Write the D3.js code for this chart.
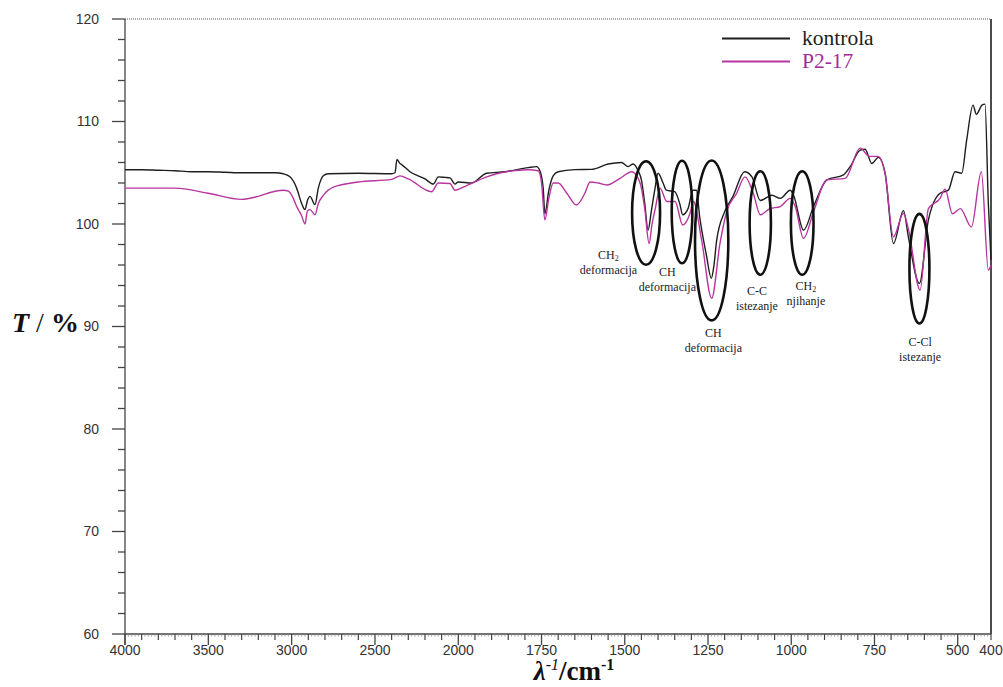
<!DOCTYPE html>
<html>
<head>
<meta charset="utf-8">
<script src="https://cdn.jsdelivr.net/npm/d3@7"></script>
<style>
  html, body { margin: 0; padding: 0; background: #fff; }
  svg { display: block; }
</style>
</head>
<body>
<svg id="chart" width="1003" height="687"></svg>
<script>
// ---- DATA ----
const seriesNames = ["kontrola", "P2-17"];

const kontrolaWn = [4000,3900,3800,3700,3600,3500,3400,3300,3200,3100,3050,3010,2970,2940,2920,2905,2890,2860,2840,2810,2780,2600,2400,2380,2368,2350,2340,2290,2200,2150,2120,2080,2050,2020,2000,1960,1915,1860,1790,1765,1755,1745,1740,1728,1715,1700,1650,1600,1550,1510,1490,1475,1460,1450,1440,1430,1420,1410,1400,1385,1375,1350,1335,1326,1310,1295,1285,1275,1255,1240,1232,1224,1200,1175,1140,1118,1093,1058,1033,1003,993,963,933,893,843,823,793,778,758,738,718,693,663,648,615,588,553,528,508,488,473,454,444,427,418,408,400];
const kontrolaT  = [105.3,105.3,105.25,105.2,105.1,105.1,105.05,105.0,105.0,105.0,104.9,104.6,103.5,102.0,101.4,102.3,102.7,101.9,103.5,104.7,104.9,104.95,104.9,105.0,106.3,105.9,105.8,105.1,104.4,103.9,104.6,104.55,104.5,103.9,104.1,104.0,104.95,105.1,105.5,105.6,105.2,103.5,101.0,103.3,104.7,105.1,105.3,105.33,105.85,106.0,105.6,105.85,105.2,104.3,102.0,99.4,101.3,103.3,104.95,104.0,103.3,103.15,102.0,100.9,101.5,103.3,103.3,100.7,97.0,94.7,96.0,98.4,101.2,102.7,105.1,104.6,102.3,102.8,102.5,103.3,102.8,99.4,101.7,104.3,104.8,105.6,107.2,107.3,105.9,106.5,104.95,98.1,101.3,98.7,94.2,100.4,103.0,103.3,105.1,104.95,108.2,111.6,110.7,111.6,111.7,102.0,96.5];

const p217Wn = [4000,3800,3700,3500,3300,3200,3100,3050,3020,2990,2970,2940,2920,2905,2890,2860,2840,2810,2750,2600,2400,2350,2300,2160,2120,2050,2020,1985,1915,1790,1760,1750,1740,1728,1715,1700,1674,1645,1620,1604,1580,1554,1514,1479,1454,1440,1427,1418,1409,1394,1374,1349,1326,1304,1294,1269,1239,1214,1194,1164,1139,1114,1093,1064,1033,1003,988,963,933,893,838,793,765,740,718,693,663,648,613,588,553,538,516,492,459,429,408,400];
const p217T  = [103.5,103.5,103.5,103.0,102.4,102.7,103.2,103.3,103.2,102.5,101.7,100.8,100.0,101.3,101.4,100.9,102.0,102.8,103.6,104.1,104.35,104.7,104.4,103.15,104.0,103.95,103.3,103.6,104.6,105.3,105.2,104.0,100.4,102.5,104.0,104.0,103.0,101.85,103.0,104.1,104.0,103.8,104.45,105.1,104.0,101.5,98.1,100.0,101.4,103.5,102.2,102.2,99.9,101.05,102.2,98.4,92.75,98.1,101.2,103.0,104.6,103.0,100.9,101.5,101.7,102.5,101.7,98.6,101.2,104.3,104.45,107.4,106.6,106.6,104.9,98.75,101.05,99.5,93.55,101.5,102.5,103.4,101.0,101.5,99.7,105.1,95.5,96.0];

const xTickLabels = [4000,3500,3000,2500,2000,1750,1500,1250,1000,750,500,400];
const yTickLabels = [60,70,80,90,100,110,120];

// annotation ellipses: band centre wavenumber, centre T, half-width (cm-1), half-height (T units), label lines
const annotWn   = [1436, 1328, 1239, 1093, 967, 615];
const annotT    = [101.07, 101.17, 98.4, 100.1, 100.1, 95.64];
const annotDw   = [42, 31, 50, 32, 34, 30];
const annotDt   = [5.05, 5.0, 7.8, 5.05, 5.05, 5.35];
const annotLine1 = ["CH|2", "CH", "CH", "C-C", "CH|2", "C-Cl"];
const annotLine2 = ["deformacija", "deformacija", "deformacija", "istezanje", "njihanje", "istezanje"];
const annotLabelWn = [1549, 1372, 1234, 1103, 956, 613];
const annotLabelT  = [96.6, 94.93, 88.93, 93.07, 93.56, 88.1];

// ---- LAYOUT ----
(function () {
const svg = d3.select("#chart");
const pL = 125, pR = 991, pT = 19, pB = 634;
const x = d3.scaleLinear().domain([4000, 2000, 400]).range([pL, 458.3, pR]);
const y = d3.scaleLinear().domain([60, 120]).range([pB, pT]);

const colors = { "kontrola": "#1e1e1e", "P2-17": "#b8359f" };

// frame: top dotted, right solid
svg.append("line").attr("x1", pL).attr("x2", pR).attr("y1", pT).attr("y2", pT)
  .attr("stroke", "#555").attr("stroke-width", 1).attr("stroke-dasharray", "1,1");
svg.append("line").attr("x1", pR).attr("x2", pR).attr("y1", pT).attr("y2", pB)
  .attr("stroke", "#111").attr("stroke-width", 1.5);

// Y axis
const yAxisG = svg.append("g");
yAxisG.append("line").attr("x1", pL).attr("x2", pL).attr("y1", pT).attr("y2", pB + 11)
  .attr("stroke", "#444").attr("stroke-width", 1.3);
d3.range(60, 120.01, 2).forEach(v => {
  const major = Math.abs(v % 10) < 1e-6;
  yAxisG.append("line").attr("x1", pL - (major ? 13 : 7)).attr("x2", pL)
    .attr("y1", y(v)).attr("y2", y(v)).attr("stroke", "#444").attr("stroke-width", 1.3);
});
yTickLabels.forEach(v => {
  yAxisG.append("text").attr("x", 99).attr("y", y(v)).attr("dy", "0.35em")
    .attr("text-anchor", "end").attr("font-family", "Liberation Sans, Arial, sans-serif")
    .attr("font-size", 14).attr("fill", "#333").text(v);
});

// X axis
const xAxisG = svg.append("g");
xAxisG.append("line").attr("x1", pL).attr("x2", pR).attr("y1", pB).attr("y2", pB)
  .attr("stroke", "#444").attr("stroke-width", 1.3);
function addXTick(w, len, col, sw) {
  xAxisG.append("line").attr("x1", x(w)).attr("x2", x(w)).attr("y1", pB).attr("y2", pB + len)
    .attr("stroke", col).attr("stroke-width", sw);
}
for (let w = 4000; w >= 2000; w -= 20) {
  if (w % 500 === 0) addXTick(w, 11, "#444", 1.3);
  else if (w % 100 === 0) addXTick(w, 6, "#444", 1.2);
  else addXTick(w, 2.5, "#888", 0.8);
}
for (let w = 1990; w >= 400; w -= 10) {
  if (w % 250 === 0) addXTick(w, 11, "#444", 1.3);
  else if (w % 50 === 0) addXTick(w, 6, "#444", 1.2);
  else addXTick(w, 2.5, "#888", 0.8);
}
xTickLabels.forEach(v => {
  xAxisG.append("text").attr("x", x(v)).attr("y", 655)
    .attr("text-anchor", "middle").attr("font-family", "Liberation Sans, Arial, sans-serif")
    .attr("font-size", 14).attr("fill", "#333").text(v);
});

// Axis titles
const yTitle = svg.append("text").attr("x", 12).attr("y", 332)
  .attr("font-family", "Liberation Serif, Times New Roman, serif").attr("font-size", 28).attr("fill", "#111");
yTitle.append("tspan").attr("font-weight", "bold").attr("font-style", "italic").text("T");
yTitle.append("tspan").text(" / ");
yTitle.append("tspan").attr("font-weight", "bold").text("%");

const xTitle = svg.append("text").attr("x", 574).attr("y", 680).attr("text-anchor", "middle")
  .attr("font-family", "Liberation Serif, Times New Roman, serif").attr("font-size", 27).attr("fill", "#111");
xTitle.append("tspan").attr("font-weight", "bold").attr("font-style", "italic").text("λ");
xTitle.append("tspan").attr("font-style", "italic").attr("font-size", 16).attr("dy", -10).text("-1");
xTitle.append("tspan").attr("font-weight", "bold").attr("dy", 10).text("/cm");
xTitle.append("tspan").attr("font-weight", "bold").attr("font-size", 16).attr("dy", -10).text("-1");

// Series
const line = d3.line().x(d => x(d[0])).y(d => y(d[1])).curve(d3.curveMonotoneX);
const seriesData = {
  "kontrola": kontrolaWn.map((w, i) => [w, kontrolaT[i]]),
  "P2-17": p217Wn.map((w, i) => [w, p217T[i]])
};
seriesNames.forEach(name => {
  svg.append("path").datum(seriesData[name]).attr("d", line)
    .attr("fill", "none").attr("stroke", colors[name]).attr("stroke-width", 1.4)
    .attr("stroke-linejoin", "round");
});

// Annotations
const ann = svg.append("g");
annotWn.forEach((w, i) => {
  const cx = x(w), cy = y(annotT[i]);
  const rx = Math.abs(x(w - annotDw[i]) - cx);
  const ry = Math.abs(y(annotT[i] - annotDt[i]) - cy);
  ann.append("ellipse").attr("cx", cx).attr("cy", cy).attr("rx", rx).attr("ry", ry)
    .attr("fill", "none").attr("stroke", "#111").attr("stroke-width", 2.6);
  const lx = x(annotLabelWn[i]), ly = y(annotLabelT[i]);
  const t1 = ann.append("text").attr("x", lx).attr("y", ly).attr("text-anchor", "middle")
    .attr("font-family", "Liberation Serif, Times New Roman, serif").attr("font-size", 12).attr("fill", "#222");
  const parts = annotLine1[i].split("|");
  t1.append("tspan").text(parts[0]);
  if (parts[1]) t1.append("tspan").attr("font-size", 8).attr("dy", 2).text(parts[1]);
  ann.append("text").attr("x", lx).attr("y", ly + 15).attr("text-anchor", "middle")
    .attr("font-family", "Liberation Serif, Times New Roman, serif").attr("font-size", 12).attr("fill", "#222")
    .text(annotLine2[i]);
});

// Legend
const legend = svg.append("g");
seriesNames.forEach((name, i) => {
  const ly = 38.5 + i * 23;
  legend.append("line").attr("x1", 722).attr("x2", 790).attr("y1", ly).attr("y2", ly)
    .attr("stroke", colors[name]).attr("stroke-width", 1.8);
  legend.append("text").attr("x", 802).attr("y", ly + 6.5)
    .attr("font-family", "Liberation Serif, Times New Roman, serif").attr("font-size", 21.5)
    .attr("fill", i === 0 ? "#1e1e1e" : "#a3299a").text(name);
});
})();
</script>
</body>
</html>
